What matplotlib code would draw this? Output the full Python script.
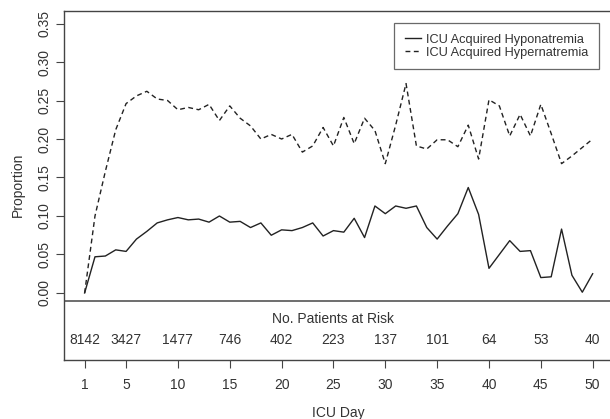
import numpy as np
import matplotlib
matplotlib.use("Agg")
import matplotlib.pyplot as plt

plt.rcParams['font.family'] = ['Liberation Sans', 'DejaVu Sans']

# ICU day and proportions
days = np.arange(1, 51)
hypo = [0.000, 0.047, 0.048, 0.056, 0.054, 0.070, 0.080, 0.091, 0.095, 0.098,
        0.095, 0.096, 0.092, 0.100, 0.092, 0.093, 0.085, 0.091, 0.075, 0.082,
        0.081, 0.085, 0.091, 0.074, 0.081, 0.079, 0.097, 0.072, 0.113, 0.103,
        0.113, 0.110, 0.113, 0.085, 0.070, 0.087, 0.103, 0.137, 0.102, 0.032,
        0.050, 0.068, 0.054, 0.055, 0.020, 0.021, 0.083, 0.023, 0.001, 0.025]
hyper = [0.000, 0.100, 0.158, 0.212, 0.246, 0.256, 0.262, 0.252, 0.250, 0.238,
         0.241, 0.238, 0.245, 0.224, 0.243, 0.227, 0.217, 0.200, 0.206, 0.200,
         0.206, 0.183, 0.191, 0.215, 0.191, 0.228, 0.194, 0.227, 0.211, 0.168,
         0.218, 0.272, 0.191, 0.187, 0.199, 0.199, 0.190, 0.218, 0.174, 0.251,
         0.243, 0.204, 0.232, 0.204, 0.245, 0.207, 0.168, 0.178, 0.189, 0.200]

# patients at risk table
risk_days = [1, 5, 10, 15, 20, 25, 30, 35, 40, 45, 50]
risk_n = [8142, 3427, 1477, 746, 402, 223, 137, 101, 64, 53, 40]

yticks = [0.00, 0.05, 0.10, 0.15, 0.20, 0.25, 0.30, 0.35]
txt = '#333333'
ln = '#222222'

fig = plt.figure(figsize=(6.1, 4.19), dpi=100)
ax = fig.add_axes([0.1054, 0.1413, 0.8995, 0.8334])

ax.plot(days, hypo, color=ln, lw=1.0, label='ICU Acquired Hyponatremia')
ax.plot(days, hyper, color=ln, lw=1.0, linestyle=(0, (3.5, 2.5)),
        label='ICU Acquired Hypernatremia')

ax.set_xlim(-0.96, 51.96)
ax.set_ylim(-0.0868, 0.3668)
ax.set_xticks(risk_days)
ax.set_yticks(yticks)
ax.set_yticklabels(['%.2f' % v for v in yticks], rotation=90, va='center')
ax.tick_params(axis='both', direction='out', length=6, width=0.8,
               colors='#444444', labelcolor=txt, labelsize=10)
ax.tick_params(axis='y', pad=3)
ax.tick_params(axis='x', pad=7)

for s in ax.spines.values():
    s.set_color('#444444')
    s.set_linewidth(1.0)

# separator and risk table
ax.axhline(-0.0105, color='#555555', lw=1.2)
ax.text(25, -0.034, 'No. Patients at Risk', ha='center', va='center',
        fontsize=10, color=txt)
for d, n in zip(risk_days, risk_n):
    ax.text(d, -0.0615, str(n), ha='center', va='center', fontsize=10, color=txt)

ax.set_xlabel('ICU Day', fontsize=10, color=txt, labelpad=10)
ax.set_ylabel('Proportion', fontsize=10, color=txt, labelpad=9)

leg = ax.legend(loc='upper right', bbox_to_anchor=(599 / 610, 1 - 23 / 419),
                bbox_transform=fig.transFigure, fontsize=9.2, frameon=True,
                fancybox=False, handlelength=1.3, handletextpad=0.35,
                labelspacing=0.05, borderpad=0.85, borderaxespad=0)
leg.get_frame().set_edgecolor('#444444')
leg.get_frame().set_linewidth(0.9)
for t in leg.get_texts():
    t.set_color(txt)

fig.savefig('out.png', dpi=100)
